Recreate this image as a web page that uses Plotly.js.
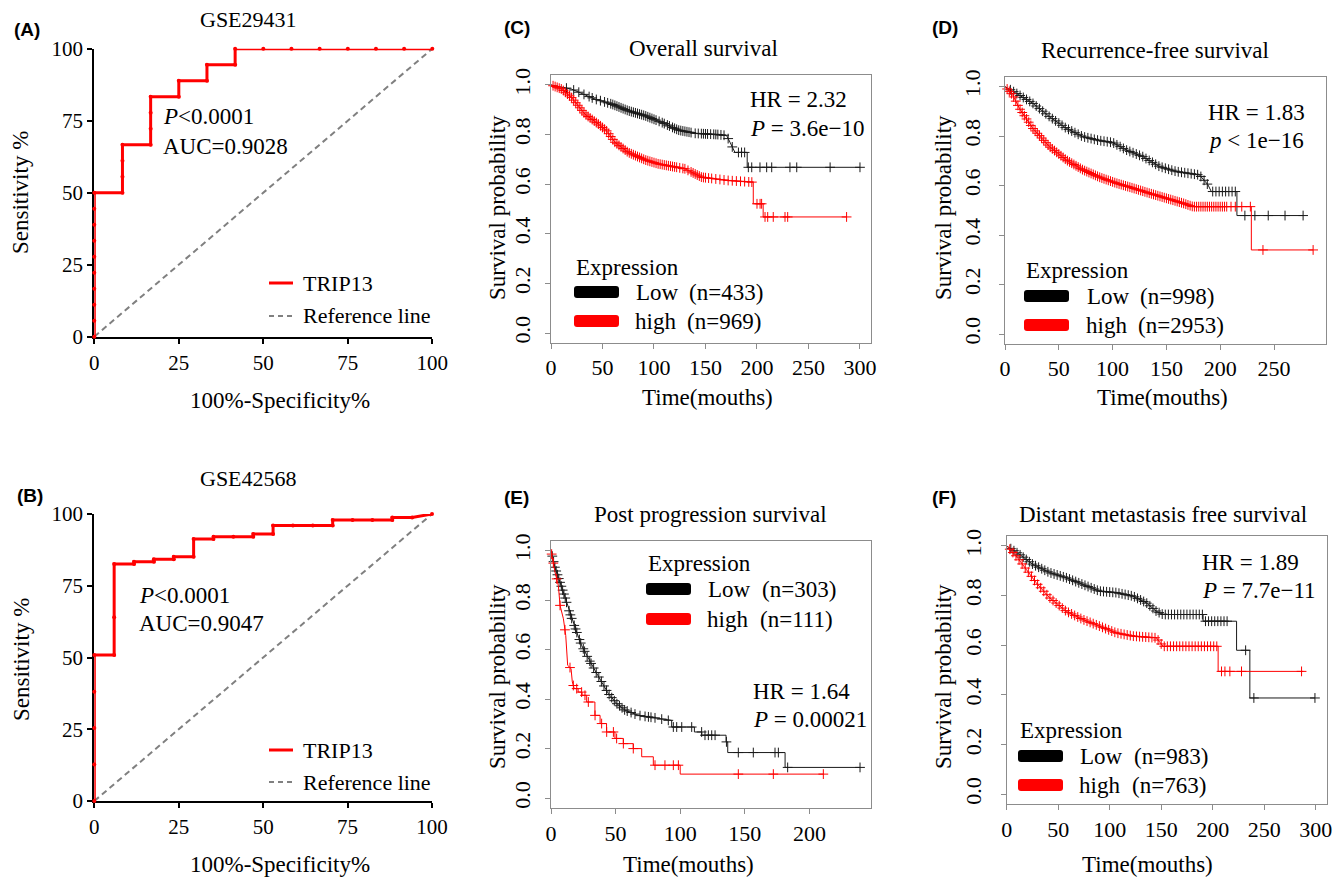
<!DOCTYPE html>
<html><head><meta charset="utf-8">
<script src="https://cdn.plot.ly/plotly-3.0.1.min.js"></script>
<style>html,body{margin:0;padding:0;background:#fff}#chart{width:1334px;height:879px}</style>
</head><body><div id="chart"></div>
<script>
// ---------------- DATA ----------------
// ROC (A) GSE29431
const A_fpr = [0,0,0,0,0,0,0,0,0,0, 8.33,8.33,8.33,8.33, 16.67,16.67,16.67,16.67, 25,25, 33.33,33.33, 41.67,41.67, 50,58.33,66.67,75,83.33,91.67,100];
const A_tpr = [0,5.56,11.11,16.67,22.22,27.78,33.33,38.89,44.44,50, 50,55.56,61.11,66.67, 66.67,72.22,77.78,83.33, 83.33,88.89, 88.89,94.44, 94.44,100, 100,100,100,100,100,100,100];
// ROC (B) GSE42568
const B_fpr = [0,0,0,0,0, 5.88,5.88,5.88, 11.76,11.76, 17.65,17.65, 23.53,23.53, 29.41,29.41, 35.29,35.29, 41.18, 47.06,47.06, 52.94,52.94, 58.82, 64.71, 70.59,70.59, 76.47, 82.35, 88.24,88.24, 94.12, 100];
const B_tpr = [0,12.7,25.4,38.1,50.9, 50.9,64,82.6, 82.6,83.4, 83.4,84.2, 84.2,85.1, 85.1,91.3, 91.3,92.1, 92.1, 92.1,93.0, 93.0,96.0, 96.0, 96.0, 96.0,97.9, 97.9, 97.9, 97.9,98.8, 98.8, 100];
const REF_X = [0,100];
const REF_Y = [0,100];
const ROC_TICKS = [0,25,50,75,100];

// (C) Overall survival
const C_low_t = [0,20,42.7,58.9,75,91.3,107.5,123.6,139.8,162.4,170.5,173.8,178.6,190.5,190.5,300];
const C_low_s = [1,0.983,0.943,0.923,0.896,0.876,0.849,0.818,0.805,0.80,0.796,0.769,0.728,0.728,0.668,0.668];
const C_high_t = [0,10.4,20,33,46,54,62,75,91.3,104,130,146.3,172,196.4,196.4,206,206,287];
const C_high_s = [1,0.983,0.949,0.882,0.842,0.815,0.769,0.728,0.698,0.682,0.662,0.628,0.615,0.608,0.521,0.521,0.468,0.468];
const C_low_cens = [15,22,27,32,37,40,44,48,52,55,58,60,62,64,66,68,70,72,74,76,78,80,82,84,86,88,90,92,94,96,98,100,102,105,108,110,113,115,118,120,122,124,126,128,130,132,134,136,140,143,146,148,150,152,155,158,160,162,165,168,172,176,182,185,188,191.6,194.9,202.9,209.4,214.3,232,238.6,271,300];
const C_high_cens = [2,4,6,8,10,12,14,16,18,20,22,24,26,28,30,32,34,36,38,40,42,44,46,48,50,52,54,56,58,60,62,64,66,68,70,72,74,76,78,80,82,84,86,88,90,92,94,96,98,100,102,104,106,108,110,112,114,116,118,120,122,125,128,130,133,136,138,140,142,144,146,148,150,153,156,160,164,168,172,176,180,184,188,192,195,200,203,204.5,207.8,210.4,215.8,227.2,229.8,287];

// (D) Recurrence-free survival
const D_low_t = [0,13.3,25.7,41.2,56.8,72.2,87.8,100.1,112.6,128,143.6,159.1,180.8,188.6,191.7,215.5,215.5,277];
const D_low_s = [1,0.966,0.933,0.879,0.832,0.798,0.782,0.774,0.744,0.717,0.677,0.657,0.643,0.603,0.576,0.576,0.479,0.479];
const D_high_t = [0,7.1,13.3,25.7,41.2,56.8,72.2,87.8,103.3,118.8,134.3,149.8,165.3,174.6,228.9,228.9,286.3];
const D_high_s = [1,0.966,0.913,0.832,0.758,0.704,0.664,0.634,0.610,0.590,0.569,0.549,0.529,0.515,0.515,0.340,0.340];
const D_low_cens = [5,8,11,14,17,20,23,26,29,32,35,38,41,44,47,50,53,56,59,62,65,68,71,74,77,80,83,86,89,92,95,98,101,104,107,110,113,116,119,122,125,128,131,134,137,140,143,146,149,152,155,158,161,164,167,170,173,176,179,182,185,188,193,196,199,202,205,208,211,214,222.9,232.2,244.6,260.2,277];
const D_high_cens = [2,4,6,8,10,12,14,16,18,20,22,24,26,28,30,32,34,36,38,40,42,44,46,48,50,52,54,56,58,60,62,64,66,68,70,72,74,76,78,80,82,84,86,88,90,92,94,96,98,100,102,104,106,108,110,112,114,116,118,120,122,124,126,128,130,132,134,136,138,140,142,144,146,148,150,152,154,156,158,160,162,164,166,168,170,172,174,176,178,180,182,184,186,188,190,192,194,196,198,200,202,204,206,210,214,220,228,239.7,286.3];

// (E) Post progression survival
const E_low_t = [0,3,7,10.8,14.7,19.9,23.7,28.9,34,39.2,44.4,50.8,57.3,67.6,80.5,90.8,93.4,93.4,111,111,116.7,116.7,135.5,135.5,136.8,136.8,181.2,181.2,239.2];
const E_low_s = [1,0.933,0.872,0.812,0.745,0.671,0.617,0.564,0.517,0.470,0.423,0.383,0.356,0.335,0.325,0.315,0.315,0.288,0.288,0.268,0.268,0.255,0.255,0.228,0.228,0.185,0.185,0.125,0.125];
const E_high_t = [0,3.1,5.7,7,9.6,11.4,12.9,15.5,16.5,18,21,21,24,24,27.6,27.6,34,34,38,38,43,43,49.5,49.5,56,56,63.7,63.7,70.2,70.2,79.2,79.2,100,100,211];
const E_high_s = [1,0.913,0.859,0.779,0.725,0.658,0.537,0.524,0.470,0.443,0.443,0.429,0.429,0.416,0.416,0.389,0.389,0.335,0.335,0.302,0.302,0.268,0.268,0.242,0.242,0.221,0.221,0.201,0.201,0.168,0.168,0.134,0.134,0.098,0.098];
const E_low_cens = [1,2,3,4,5,6,7,8,9,10,11,12,14,15,16,18,19,20,22,23,25,26,28,30,31,33,35,37,39,41,43,45,47,49,51,53,55,57,59,62,65,68.9,72.8,75.4,77.4,80.5,85.7,90.8,94.7,97.3,101.2,108.9,116.6,119.2,121.8,124.4,127,135.8,145,156.6,173.4,176,183.2,239.2];
const E_high_cens = [0.5,1.8,4.4,7,10.8,14.7,17.3,19.9,23.7,26.3,28.9,34.1,39.2,43.1,48.3,50.8,56,63.7,80.5,88.2,94.7,98.6,145,172.1,210.8];

// (F) Distant metastasis free survival
const F_low_t = [0,12.4,25.3,41.5,57.8,73.9,90.2,106.4,122.6,135.6,145.3,151.8,190.7,190.7,223.2,223.2,236.1,236.1,299.3];
const F_low_s = [1,0.966,0.926,0.893,0.872,0.845,0.818,0.812,0.798,0.771,0.737,0.724,0.724,0.697,0.697,0.580,0.580,0.388,0.388];
const F_high_t = [0,9.1,18.9,28.6,41.5,57.8,73.9,90.2,106.4,122.6,145.3,151.8,205.3,205.3,288];
const F_high_s = [1,0.960,0.906,0.852,0.792,0.737,0.704,0.677,0.650,0.637,0.630,0.596,0.596,0.495,0.495];
const F_low_cens = [4,7,10,13,16,19,22,25,28,31,34,37,40,43,46,49,52,55,58,61,64,67,70,73,76,79,82,85,88,91,94,97,100,103,106,109,112,115,118,121,124,127,130,133,136,139,142,145,148,151,154,157,160,163,166,169,172,175,178,181,184,187,190,193,196,199,202,205,208,211,214,232,240,299.3];
const F_high_cens = [3,6,9,12,15,18,21,24,27,30,33,36,39,42,45,48,51,54,57,60,63,66,69,72,75,78,81,84,87,90,93,96,99,102,105,108,111,114,117,120,123,126,129,132,135,138,141,144,147,150,153,156,159,162,165,168,171,174,177,180,183,186,189,192,195,198,201,204,208.6,211.9,216.7,228,286.3];

const KM_YTICKS = [0,0.2,0.4,0.6,0.8,1.0];
const KM_YTEXT = ['0.0','0.2','0.4','0.6','0.8','1.0'];

// ---------------- RENDER ----------------
const W = 1334, H = 879;
const fx = p => p / W;
const fy = p => 1 - p / H;
const SERIF = 'Liberation Serif, Times New Roman, serif';
const RED = '#ff0000', BLK = '#1a1a1a', BOX = '#8c8c8c';

function curveAt(t, s, c) {
  let i = 0;
  for (let k = 0; k < t.length; k++) if (t[k] <= c) i = k;
  if (i + 1 < t.length && t[i + 1] > t[i]) {
    const f = (c - t[i]) / (t[i + 1] - t[i]);
    return s[i] + f * (s[i + 1] - s[i]);
  }
  return s[i];
}

const data = [];
function roc(fpr, tpr, xa, ya) {
  data.push({x: REF_X, y: REF_Y, xaxis: xa, yaxis: ya, mode: 'lines', hoverinfo: 'skip',
    line: {color: '#808080', width: 2, dash: '6px,4px'}});
  data.push({x: fpr, y: tpr, xaxis: xa, yaxis: ya, mode: 'lines+markers', cliponaxis: false,
    line: {color: RED, width: 3}, marker: {size: 4, color: RED}});
}
function km(t, s, cens, color, xa, ya) {
  data.push({x: t, y: s, xaxis: xa, yaxis: ya, mode: 'lines', cliponaxis: false,
    line: {color: color, width: 1}});
  data.push({x: cens, y: cens.map(c => curveAt(t, s, c)), xaxis: xa, yaxis: ya, mode: 'markers', cliponaxis: false,
    marker: {symbol: 'cross-thin-open', size: 7, color: color, line: {color: color, width: 1}}});
}
roc(A_fpr, A_tpr, 'x', 'y');
roc(B_fpr, B_tpr, 'x2', 'y2');
km(C_low_t, C_low_s, C_low_cens, BLK, 'x3', 'y3');
km(C_high_t, C_high_s, C_high_cens, RED, 'x3', 'y3');
km(D_low_t, D_low_s, D_low_cens, BLK, 'x4', 'y4');
km(D_high_t, D_high_s, D_high_cens, RED, 'x4', 'y4');
km(E_low_t, E_low_s, E_low_cens, BLK, 'x5', 'y5');
km(E_high_t, E_high_s, E_high_cens, RED, 'x5', 'y5');
km(F_low_t, F_low_s, F_low_cens, BLK, 'x6', 'y6');
km(F_high_t, F_high_s, F_high_cens, RED, 'x6', 'y6');

function rocX(x0, x1, anchor) {
  return {domain: [fx(x0), fx(x1)], anchor: anchor, range: [0, 100], tickvals: ROC_TICKS,
    showline: true, linecolor: '#000', linewidth: 2, ticks: 'outside', ticklen: 5, tickwidth: 2, tickcolor: '#000',
    showgrid: false, zeroline: false, layer: 'below traces', ticklabelstandoff: 1,
    tickfont: {family: SERIF, size: 21, color: '#000'}, fixedrange: true};
}
function rocY(y0, y1, anchor) {
  return {domain: [fy(y1), fy(y0)], anchor: anchor, range: [0, 100], tickvals: ROC_TICKS,
    showline: true, linecolor: '#000', linewidth: 2, ticks: 'outside', ticklen: 5, tickwidth: 2, tickcolor: '#000',
    showgrid: false, zeroline: false, layer: 'below traces', ticklabelstandoff: 0,
    tickfont: {family: SERIF, size: 21, color: '#000'}, fixedrange: true};
}
function kmX(x0, x1, anchor, xmax, ticks) {
  return {domain: [fx(x0), fx(x1)], anchor: anchor, range: [0, xmax], tickvals: ticks,
    showline: true, mirror: true, linecolor: BOX, linewidth: 1, ticks: 'outside', ticklen: 5, tickwidth: 1, tickcolor: BOX,
    showgrid: false, zeroline: false, ticklabelstandoff: 0,
    tickfont: {family: SERIF, size: 22, color: '#000'}, fixedrange: true};
}
function kmY(y0, y1, anchor, standoff) {
  return {domain: [fy(y1), fy(y0)], anchor: anchor, range: [-0.04, 1.04], tickvals: KM_YTICKS, ticktext: KM_YTEXT,
    showline: true, mirror: true, linecolor: BOX, linewidth: 1, ticks: 'outside', ticklen: 5, tickwidth: 1, tickcolor: BOX,
    showgrid: false, zeroline: false, tickangle: -90, ticklabelstandoff: standoff,
    tickfont: {family: SERIF, size: 22, color: '#000'}, fixedrange: true};
}

const annotations = [];
function ann(text, x, y, o) {
  o = o || {};
  annotations.push(Object.assign({text: text, x: fx(x), y: fy(y), xref: 'paper', yref: 'paper', showarrow: false,
    xanchor: 'left', yanchor: 'middle', font: {family: SERIF, size: 23, color: '#000'}}, o));
}
const shapes = [];
function hline(x0, x1, y, color, dash) {
  shapes.push({type: 'line', xref: 'paper', yref: 'paper', x0: fx(x0), x1: fx(x1), y0: fy(y), y1: fy(y),
    line: {color: color, width: dash ? 2 : 3, dash: dash || 'solid'}});
}
function swatch(x0, y0, x1, y1, color) {
  const r = 3;
  const X = v => fx(v).toFixed(6), Y = v => fy(v).toFixed(6);
  const path = `M${X(x0 + r)},${Y(y0)} L${X(x1 - r)},${Y(y0)} Q${X(x1)},${Y(y0)} ${X(x1)},${Y(y0 + r)} ` +
    `L${X(x1)},${Y(y1 - r)} Q${X(x1)},${Y(y1)} ${X(x1 - r)},${Y(y1)} L${X(x0 + r)},${Y(y1)} ` +
    `Q${X(x0)},${Y(y1)} ${X(x0)},${Y(y1 - r)} L${X(x0)},${Y(y0 + r)} Q${X(x0)},${Y(y0)} ${X(x0 + r)},${Y(y0)} Z`;
  shapes.push({type: 'path', xref: 'paper', yref: 'paper', path: path, fillcolor: color, line: {width: 0}});
}
const bold = {family: 'Liberation Sans, Arial, sans-serif', size: 19, color: '#000', weight: 'bold'};

// Panel letters
ann('<b>(A)</b>', 12, 30, {font: bold});
ann('<b>(B)</b>', 15, 495, {font: bold});
ann('<b>(C)</b>', 502, 28, {font: bold});
ann('<b>(D)</b>', 930, 28, {font: bold});
ann('<b>(E)</b>', 502, 497, {font: bold});
ann('<b>(F)</b>', 930, 497, {font: bold});

// ROC A texts
ann('GSE29431', 248, 20, {xanchor: 'center', font: {family: SERIF, size: 22, color: '#000'}});
ann('<i>P</i><0.0001', 161, 117);
ann('AUC=0.9028', 161, 146);
ann('Sensitivity %', 21, 193, {xanchor: 'center', textangle: -90});
ann('100%-Specificity%', 280, 400, {xanchor: 'center'});
hline(269, 293, 283, RED);
ann('TRIP13', 301, 283, {font: {family: SERIF, size: 22, color: '#000'}});
hline(269, 293, 316, '#808080', '5px,4px');
ann('Reference line', 301, 316, {font: {family: SERIF, size: 22, color: '#000'}});

// ROC B texts
ann('GSE42568', 248, 478, {xanchor: 'center', font: {family: SERIF, size: 22, color: '#000'}});
ann('<i>P</i><0.0001', 137, 595);
ann('AUC=0.9047', 137, 623);
ann('Sensitivity %', 21, 660, {xanchor: 'center', textangle: -90});
ann('100%-Specificity%', 280, 864, {xanchor: 'center'});
hline(269, 293, 750, RED);
ann('TRIP13', 301, 750, {font: {family: SERIF, size: 22, color: '#000'}});
hline(269, 293, 782, '#808080', '5px,4px');
ann('Reference line', 301, 782, {font: {family: SERIF, size: 22, color: '#000'}});

// KM panel texts
function kmText(p) {
  ann(p.title, p.tx, p.ty, {xanchor: 'center'});
  ann('Survival probability', p.yx, p.yy, {xanchor: 'center', textangle: -90});
  ann('Time(mouths)', p.xx, p.xy, {xanchor: 'center'});
  ann(p.hr, p.hx, p.hy1);
  ann(p.pv, p.hx, p.hy2);
  ann('Expression', p.lx, p.ly0);
  swatch(p.lx, p.ly1 - 6, p.lx + 45, p.ly1 + 6, '#000');
  swatch(p.lx, p.ly2 - 6, p.lx + 45, p.ly2 + 6, RED);
  ann('Low', p.lx2, p.ly1);
  ann('high', p.lx2 - 1, p.ly2);
  ann(p.nlow, p.nx, p.ly1);
  ann(p.nhigh, p.nx - 2, p.ly2);
}
kmText({title: 'Overall survival', tx: 703, ty: 48, yx: 497, yy: 208, xx: 707, xy: 398,
  hr: 'HR = 2.32', pv: '<i>P</i> = 3.6e\u221210', hx: 748, hy1: 100, hy2: 128,
  lx: 574, ly0: 267, ly1: 292, ly2: 321, lx2: 634, nx: 687, nlow: '(n=433)', nhigh: '(n=969)'});
kmText({title: 'Recurrence-free survival', tx: 1155, ty: 50, yx: 943, yy: 208, xx: 1162, xy: 398,
  hr: 'HR = 1.83', pv: '<i>p</i> < 1e\u221216', hx: 1206, hy1: 112, hy2: 140,
  lx: 1024, ly0: 270, ly1: 296, ly2: 325, lx2: 1085, nx: 1138, nlow: '(n=998)', nhigh: '(n=2953)'});
kmText({title: 'Post progression survival', tx: 710, ty: 514, yx: 497, yy: 677, xx: 688, xy: 864,
  hr: 'HR = 1.64', pv: '<i>P</i> = 0.00021', hx: 751, hy1: 691, hy2: 719,
  lx: 646, ly0: 563, ly1: 589, ly2: 619, lx2: 706, nx: 760, nlow: '(n=303)', nhigh: '(n=111)'});
kmText({title: 'Distant metastasis free survival', tx: 1163, ty: 514, yx: 943, yy: 677, xx: 1147, xy: 864,
  hr: 'HR = 1.89', pv: '<i>P</i> = 7.7e\u221211', hx: 1200, hy1: 562, hy2: 590,
  lx: 1018, ly0: 730, ly1: 756, ly2: 785, lx2: 1078, nx: 1132, nlow: '(n=983)', nhigh: '(n=763)'});

const layout = {
  width: W, height: H, margin: {l: 0, r: 0, t: 0, b: 0}, showlegend: false,
  paper_bgcolor: '#fff', plot_bgcolor: 'rgba(0,0,0,0)',
  xaxis: rocX(94.3, 432.3, 'y'), yaxis: rocY(48.7, 336.7, 'x'),
  xaxis2: rocX(94.3, 432.0, 'y2'), yaxis2: rocY(514, 801, 'x2'),
  xaxis3: kmX(551, 871, 'y3', 310.7, [0,50,100,150,200,250,300]), yaxis3: kmY(75, 343, 'x3', 6),
  xaxis4: kmX(1005, 1325.7, 'y4', 298, [0,50,100,150,200,250]), yaxis4: kmY(76.7, 344, 'x4', 10),
  xaxis5: kmX(551, 871, 'y5', 247.7, [0,50,100,150,200]), yaxis5: kmY(540.7, 808.3, 'x5', 6),
  xaxis6: kmX(1006.7, 1327.3, 'y6', 311.3, [0,50,100,150,200,250,300]), yaxis6: kmY(536, 804.3, 'x6', 11),
  annotations: annotations, shapes: shapes
};
Plotly.newPlot('chart', data, layout, {staticPlot: true, displayModeBar: false});
</script></body></html>
